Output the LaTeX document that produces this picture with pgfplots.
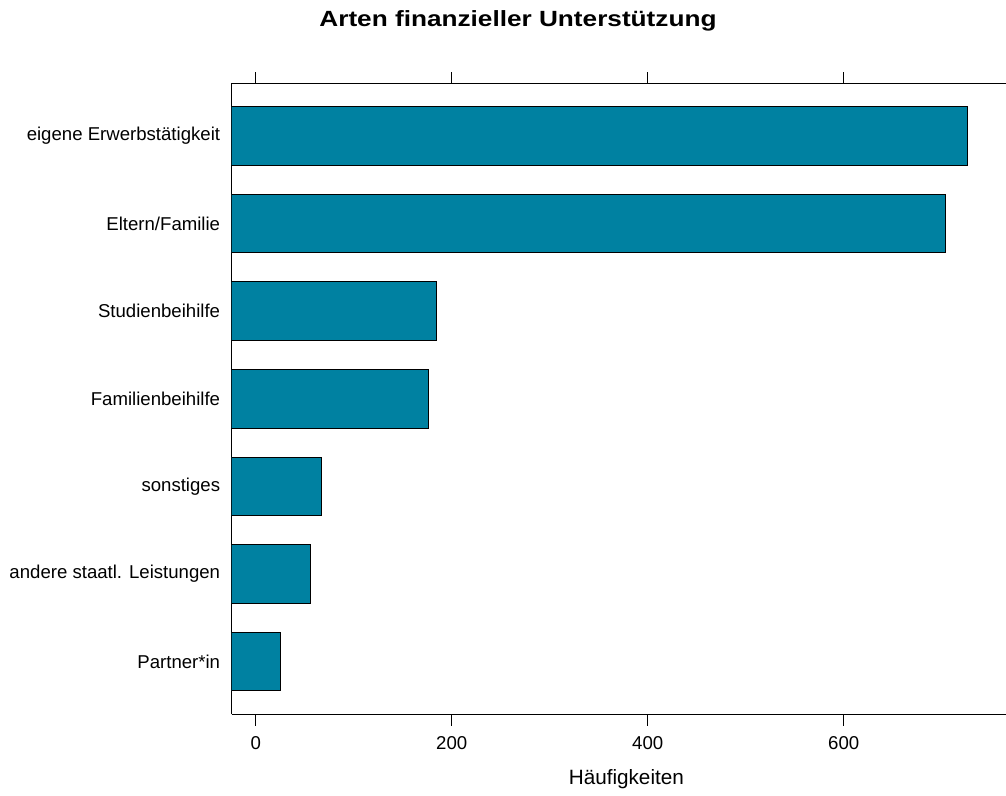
\documentclass[border=0pt]{standalone}
\usepackage{fontspec}
\setmainfont{Liberation Sans}
\usepackage{graphicx}
\usepackage{pgfplots}
\usepackage{pgfplotstable}
\pgfplotsset{compat=1.18}
\definecolor{barteal}{RGB}{0,129,161}

% counts, pos 1 = bottom bar
\pgfplotstableread{
pos n
1 25
2 56
3 67
4 176
5 184
6 704
7 726
}\hauf

\begin{document}
\begin{tikzpicture}
  \useasboundingbox (0,0) rectangle (1006bp,796bp);
  \begin{axis}[
      at={(231.7bp,81.7bp)}, anchor=south west,
      scale only axis,
      width=789.3bp, height=631bp,
      clip mode=individual,
      xbar, bar width=0.6667,
      xmin=0, xmax=805.4,
      ymin=0.4, ymax=7.6,
      axis x line*=bottom, axis y line*=left,
      % bars start at the left edge (-24.5), so x is shifted by 24.5
      xtick={24.5,224.5,424.5,624.5},
      xticklabels={0,200,400,600},
      ytick={1,2,3,4,5,6,7},
      yticklabels={Partner*in, andere staatl. Leistungen, sonstiges, Familienbeihilfe,
        Studienbeihilfe, Eltern/Familie, eigene Erwerbstätigkeit},
      tick align=outside,
      major tick length=11.4bp,
      ytick style={draw=none},
      xtick style={black, line width=1bp},
      axis line style={black, line width=1bp, -},
      /pgf/number format/assume math mode=true,
      xticklabel style={font=\fontsize{18.6bp}{20bp}\selectfont, anchor=north, inner sep=0pt, yshift=-10.8bp},
      yticklabel style={font=\fontsize{18.6bp}{20bp}\selectfont, anchor=east, inner sep=0pt},
      title={\scalebox{1.19}[1]{\textbf{Arten finanzieller Unterstützung}}},
      title style={font=\fontsize{22bp}{24bp}\selectfont, anchor=base, at={(axis description cs:0.3627,1)}, yshift=51.3bp},
      xlabel={Häufigkeiten},
      xlabel style={font=\fontsize{20.7bp}{22bp}\selectfont, anchor=base, at={(axis description cs:0.5,0)}, yshift=-70bp},
    ]
    \addplot[fill=barteal, draw=black, line width=1bp]
      table[x expr=\thisrow{n}+24.5, y=pos] {\hauf};
    % top frame line with its ticks (right frame runs off the page)
    \draw[black, line width=1bp] (rel axis cs:0,1) -- (rel axis cs:1,1);
    \draw[black, line width=1bp] (axis cs:24.5,7.6) -- ++(0pt,11.4bp);
    \draw[black, line width=1bp] (axis cs:224.5,7.6) -- ++(0pt,11.4bp);
    \draw[black, line width=1bp] (axis cs:424.5,7.6) -- ++(0pt,11.4bp);
    \draw[black, line width=1bp] (axis cs:624.5,7.6) -- ++(0pt,11.4bp);
  \end{axis}
\end{tikzpicture}
\end{document}
